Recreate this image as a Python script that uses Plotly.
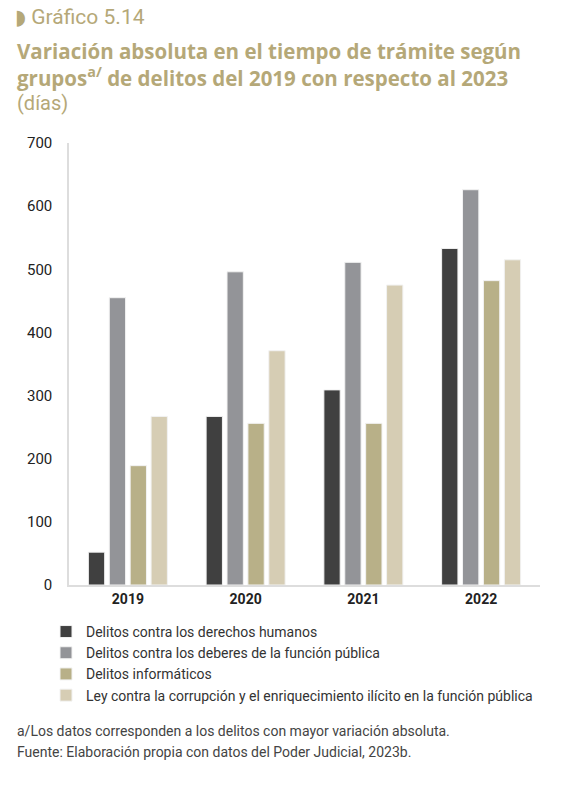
import plotly.graph_objects as go

years = ["2019", "2020", "2021", "2022"]
series_names = [
    "Delitos contra los derechos humanos",
    "Delitos contra los deberes de la función pública",
    "Delitos informáticos",
    "Ley contra la corrupción y el enriquecimiento ilícito en la función pública",
]
derechos_humanos = [52, 267, 309, 533]
deberes_funcion = [455, 496, 511, 626]
informaticos = [189, 256, 256, 482]
ley_corrupcion = [267, 371, 475, 515]
colors = ["#404040", "#939498", "#b8b088", "#d6cdb4"]

values = [derechos_humanos, deberes_funcion, informaticos, ley_corrupcion]

fig = go.Figure()
for name, vals, col in zip(series_names, values, colors):
    fig.add_trace(go.Bar(
        x=years, y=vals, name=name,
        marker=dict(color=col, line=dict(color="#f2f2f2", width=1)),
    ))

FONT = "Roboto"
gold = "#b5a878"
W, H, L, R, T, B = 576, 786, 69, 36, 143, 201

fig.update_layout(
    width=W, height=H,
    margin=dict(l=L, r=R, t=T, b=B, autoexpand=False),
    paper_bgcolor="white", plot_bgcolor="white",
    barmode="group", bargap=0.29, bargroupgap=0.22,
    font=dict(family=FONT, size=14, color="#333333"),
    showlegend=True,
    legend=dict(
        orientation="v", x=(46 - L) / (W - L - R), xanchor="left",
        y=-0.07, yanchor="top",
        font=dict(family=FONT, size=14, color="#333333"),
        itemwidth=30, tracegroupgap=2, bgcolor="rgba(0,0,0,0)",
    ),
    xaxis=dict(
        showline=True, linecolor="#dddddd", linewidth=1.5,
        ticks="", showgrid=False,
        tickfont=dict(family=FONT, size=14, color="#222222", weight="bold"),
    ),
    yaxis=dict(
        range=[0, 700], dtick=100, showgrid=False, zeroline=False,
        showline=True, linecolor="#dddddd", linewidth=1.5,
        ticks="", ticklabelstandoff=12,
        tickfont=dict(family=FONT, size=15, color="#222222"),
    ),
)

annotations = [
    dict(text="<span style='font-family:DejaVu Sans;font-size:21px'>◗</span> Gráfico 5.14", x=13, y=17,
         font=dict(family=FONT, size=21, color=gold)),
    dict(text="<b>Variación absoluta en el tiempo de trámite según</b><br>"
              "<b>grupos<sup>a/</sup> de delitos del 2019 con respecto al 2023</b>",
         x=15, y=65,
         font=dict(family="Open Sans", size=20.5, color=gold)),
    dict(text="(días)", x=15, y=103,
         font=dict(family=FONT, size=20, color=gold)),
    dict(text="a/Los datos corresponden a los delitos con mayor variación absoluta.", x=15, y=731,
         font=dict(family=FONT, size=14, color="#444444")),
    dict(text="Fuente: Elaboración propia con datos del Poder Judicial, 2023b.", x=15, y=752,
         font=dict(family=FONT, size=14, color="#444444")),
]
for a in annotations:
    fig.add_annotation(
        text=a["text"], xref="paper", yref="paper",
        x=(a["x"] - L) / (W - L - R),
        y=1 - (a["y"] - T) / (H - T - B),
        xanchor="left", yanchor="middle", showarrow=False, align="left",
        font=a["font"],
    )

fig.write_html("out.html", config={"displayModeBar": False},
               post_script="document.body.style.margin='0';")
